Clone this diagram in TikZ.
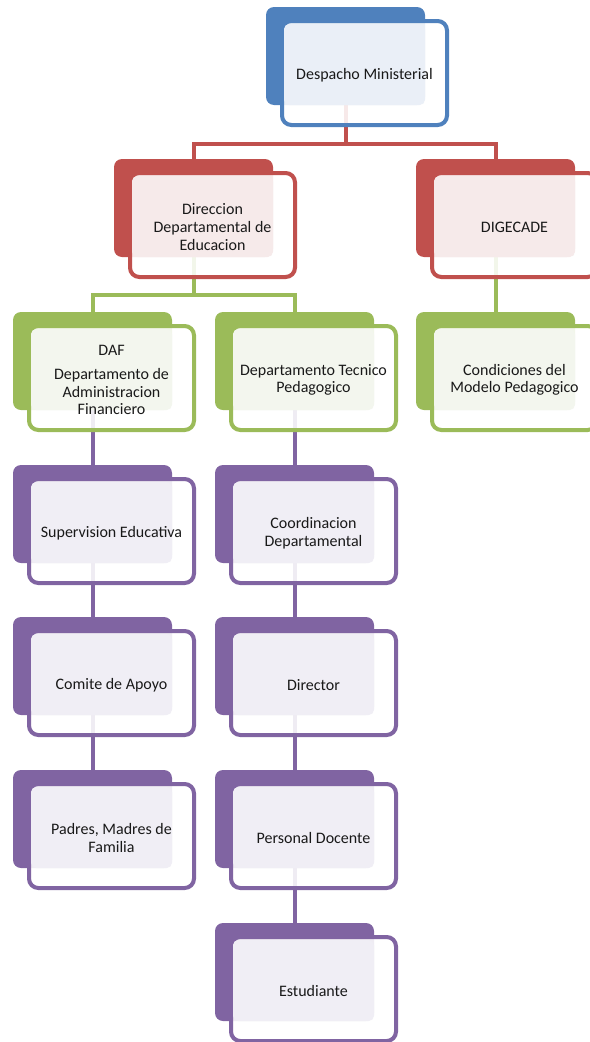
\documentclass[tikz,border=0pt]{standalone}
\usepackage{fontspec}
\setmainfont{Carlito}
\pgfdeclarelayer{bg}
\pgfsetlayers{bg,main}
\definecolor{cblue}{HTML}{4F81BD}
\definecolor{lblue}{HTML}{EAEFF7}
\definecolor{cred}{HTML}{C0504D}
\definecolor{lred}{HTML}{F6EAEA}
\definecolor{cgreen}{HTML}{9BBB59}
\definecolor{lgreen}{HTML}{F3F6EE}
\definecolor{cpurple}{HTML}{8064A2}
\definecolor{lpurple}{HTML}{F0EEF5}
\newcommand\obox[6]{%
  \node[backbox, fill=#4] (#1) at (#2+79.5,#3+49) {};
  \draw[frontbox, draw=#4] (#2+16,#3+14) rectangle (#2+181,#3+118);
  \fill[#5, rounded corners=4pt] (#2+18,#3+17) rectangle (#2+159,#3+98);
  \node[label text] (#1-t) at (#2+98.5,#3+68) {#6};
}
\begin{document}
\begin{tikzpicture}[x=0.75pt,y=-0.75pt,
  backbox/.style={draw=none, rounded corners=6pt, minimum width=119.25pt, minimum height=73.5pt, inner sep=0pt},
  frontbox/.style={line width=3pt, fill=white, fill opacity=0.88, rounded corners=7pt},
  label text/.style={align=center, font=\fontsize{12pt}{13.2pt}\selectfont, text=black!90},
  conn/.style={line width=3pt}]
\useasboundingbox (0,0) rectangle (589,1042);
\obox{dm}{266}{7}{cblue}{lblue}{Despacho Ministerial}
\obox{dde}{114}{159}{cred}{lred}{Direccion\\Departamental de\\Educacion}
\obox{dig}{416}{159}{cred}{lred}{DIGECADE}
\obox{daf}{13}{312}{cgreen}{lgreen}{DAF\\[5pt]Departamento de\\Administracion\\Financiero}
\obox{dtp}{215}{312}{cgreen}{lgreen}{Departamento Tecnico\\Pedagogico}
\obox{cmp}{416}{312}{cgreen}{lgreen}{Condiciones del\\Modelo Pedagogico}
\obox{sup}{13}{465}{cpurple}{lpurple}{Supervision Educativa}
\obox{com}{13}{617}{cpurple}{lpurple}{Comite de Apoyo}
\obox{pad}{13}{770}{cpurple}{lpurple}{Padres, Madres de\\Familia}
\obox{cod}{215}{465}{cpurple}{lpurple}{Coordinacion\\Departamental}
\obox{dir}{215}{617}{cpurple}{lpurple}{Director}
\obox{pdo}{215}{770}{cpurple}{lpurple}{Personal Docente}
\obox{est}{215}{923}{cpurple}{lpurple}{Estudiante}
\begin{pgfonlayer}{bg}
  \draw[conn, cred] (dm.south) -- (dm.south |- 0,143.5) -| (dde.north);
  \draw[conn, cred] (dm.south |- 0,143.5) -| (dig.north);
  \draw[conn, cgreen] (dde.south) -- (dde.south |- 0,295) -| (daf.north);
  \draw[conn, cgreen] (dde.south |- 0,295) -| (dtp.north);
  \draw[conn, cgreen] (dig.south) -- (cmp.north);
  \draw[conn, cpurple] (daf.south) -- (sup.north);
  \draw[conn, cpurple] (sup.south) -- (com.north);
  \draw[conn, cpurple] (com.south) -- (pad.north);
  \draw[conn, cpurple] (dtp.south) -- (cod.north);
  \draw[conn, cpurple] (cod.south) -- (dir.north);
  \draw[conn, cpurple] (dir.south) -- (pdo.north);
  \draw[conn, cpurple] (pdo.south) -- (est.north);
\end{pgfonlayer}
\end{tikzpicture}
\end{document}
